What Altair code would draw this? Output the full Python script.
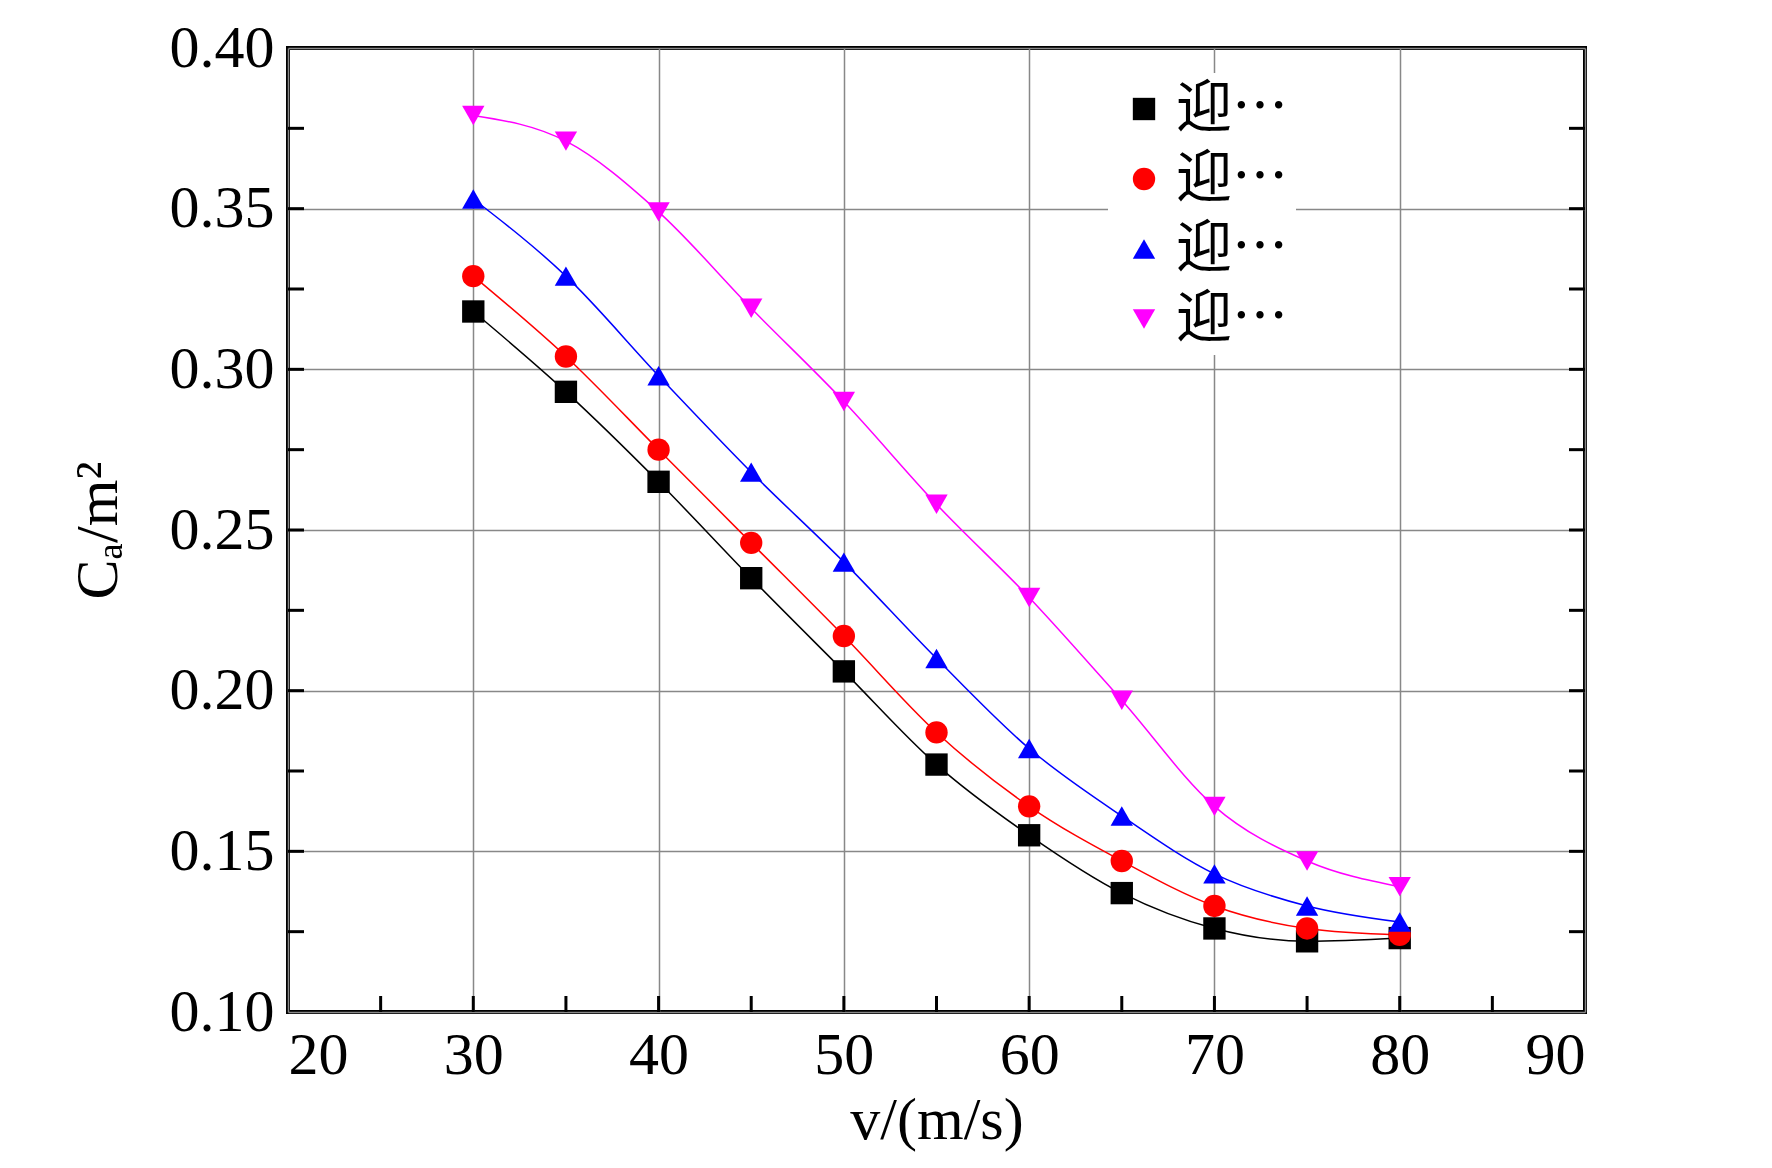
import altair as alt
import pandas as pd

v = [30, 35, 40, 45, 50, 55, 60, 65, 70, 75, 80]
s30 = [0.318, 0.293, 0.265, 0.235, 0.206, 0.177, 0.155, 0.137, 0.126, 0.122, 0.123]
s34 = [0.329, 0.304, 0.275, 0.246, 0.217, 0.187, 0.164, 0.147, 0.133, 0.126, 0.124]
s38 = [0.353, 0.329, 0.298, 0.268, 0.240, 0.210, 0.182, 0.161, 0.143, 0.133, 0.128]
s46 = [0.379, 0.371, 0.349, 0.319, 0.290, 0.258, 0.229, 0.197, 0.164, 0.147, 0.139]
names = ["迎风角为30°", "迎风角为34°", "迎风角为38°", "迎风角为46°"]
colors = ["#000000", "#ff0000", "#0000ff", "#ff00ff"]
shapes = ["square", "circle", "triangle-up", "triangle-down"]

rows = []
for n, s in zip(names, [s30, s34, s38, s46]):
    for x, y in zip(v, s):
        rows.append({"v": x, "Ca": y, "series": n})
df = pd.DataFrame(rows)

W, H = 1297, 964
font = "Liberation Serif"
xs = alt.Scale(domain=[20, 90], nice=False)
ys = alt.Scale(domain=[0.10, 0.40], nice=False)
cs = alt.Scale(domain=names, range=colors)
ss = alt.Scale(domain=names, range=shapes)
leg = alt.Legend(title=None, orient="none", legendX=820, legendY=25,
                 labelFont="Noto Sans CJK SC", labelFontSize=56, labelColor="black",
                 symbolSize=500, symbolStrokeWidth=0, rowPadding=14, fillColor="white", padding=8)

base = alt.Chart(df)
lines = base.mark_line(strokeWidth=1.5, interpolate="monotone").encode(
    x=alt.X("v:Q", scale=xs, axis=alt.Axis(values=[20, 30, 40, 50, 60, 70, 80, 90], title="v/(m/s)",
            labelFontSize=60, titleFontSize=60, labelFont=font, titleFont=font,
            titleFontWeight="normal", labelColor="black", titleColor="black", grid=True, gridColor="#888888",
            gridWidth=1.5, domain=False, ticks=False, labelPadding=14, titlePadding=6)),
    y=alt.Y("Ca:Q", scale=ys, axis=alt.Axis(values=[0.10, 0.15, 0.20, 0.25, 0.30, 0.35, 0.40], format=".2f",
            title="Cₐ/m²", labelFontSize=60, titleFontSize=60, labelFont=font, titleFont=font,
            titleFontWeight="normal", labelColor="black", titleColor="black", grid=True, gridColor="#888888",
            gridWidth=1.5, domain=False, ticks=False, labelPadding=14, titlePadding=40)),
    color=alt.Color("series:N", scale=cs, legend=leg),
    shape=alt.Shape("series:N", scale=ss, legend=leg),
    detail="series:N",
)
points = base.mark_point(filled=True, size=500, opacity=1).encode(
    x=alt.X("v:Q", scale=xs),
    y=alt.Y("Ca:Q", scale=ys),
    color=alt.Color("series:N", scale=cs, legend=leg),
    shape=alt.Shape("series:N", scale=ss, legend=leg),
)

xt = pd.DataFrame({"t": [25, 30, 35, 40, 45, 50, 55, 60, 65, 70, 75, 80, 85]})
yt = pd.DataFrame({"t": [0.125, 0.15, 0.175, 0.2, 0.225, 0.25, 0.275, 0.3, 0.325, 0.35, 0.375]})
xticks = alt.Chart(xt).mark_rule(color="black", strokeWidth=3).encode(
    x=alt.X("t:Q", scale=xs), y=alt.value(H), y2=alt.value(H - 16))
yticks_l = alt.Chart(yt).mark_rule(color="black", strokeWidth=3).encode(
    y=alt.Y("t:Q", scale=ys), x=alt.value(0), x2=alt.value(16))
yticks_r = alt.Chart(yt).mark_rule(color="black", strokeWidth=3).encode(
    y=alt.Y("t:Q", scale=ys), x=alt.value(W), x2=alt.value(W - 16))

chart = alt.layer(lines, points, xticks, yticks_l, yticks_r).properties(
    width=W, height=H, background="white",
    padding={"left": 60, "top": 10, "right": 5, "bottom": 5}
).configure_view(stroke="black", strokeWidth=4)

chart.save("out.html", embed_options={"renderer": "svg", "actions": False})
